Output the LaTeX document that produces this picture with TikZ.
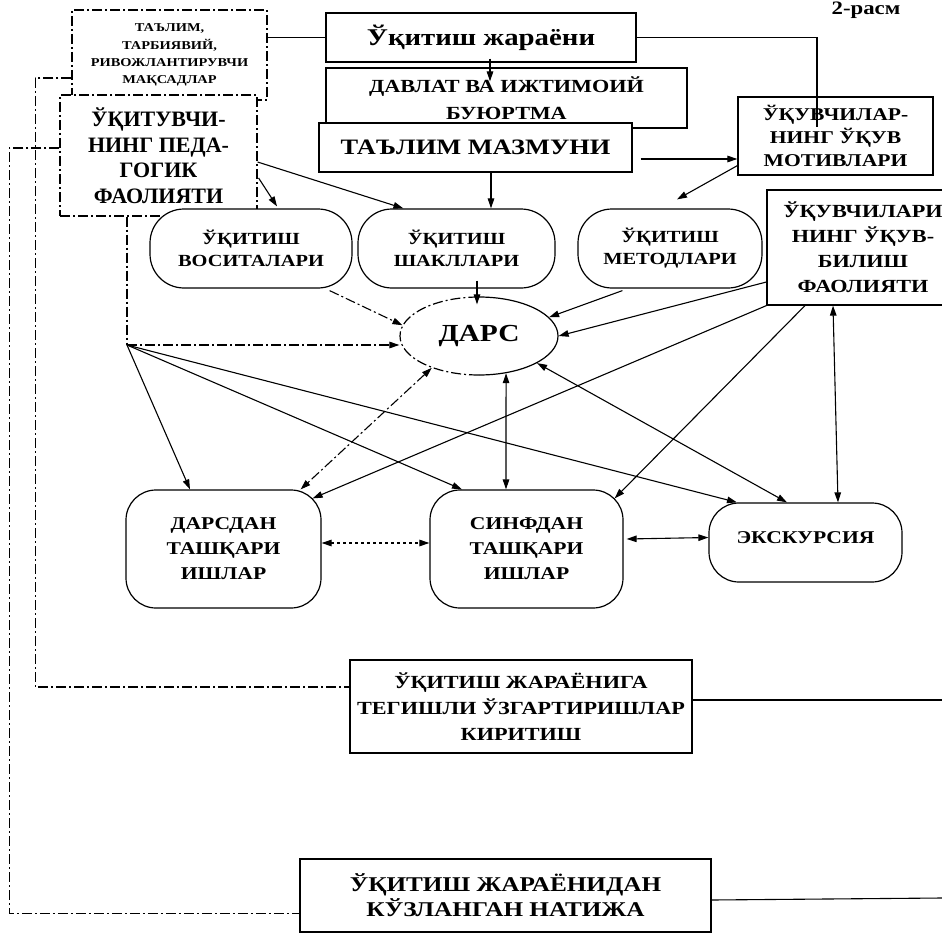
\documentclass[tikz,border=0pt]{standalone}
\usepackage{fontspec}
\setmainfont[FakeStretch=1.2]{Liberation Serif}
\newfontfamily\nf{Liberation Serif}
\usetikzlibrary{arrows.meta,calc,shapes.geometric}
\newcommand\fz[2]{\fontsize{#1}{#2}\selectfont}
\tikzset{
  box/.style={draw, line width=1.2pt, fill=white, inner sep=0pt, align=center},
  rbox/.style={box, rounded corners=34pt},
  ln/.style={line width=1.1pt},
  arr/.style={ln, -{Triangle[length=10pt,width=6.5pt]}},
  darr/.style={ln, {Triangle[length=10pt,width=6.5pt]}-{Triangle[length=10pt,width=6.5pt]}},
  dd/.style={dash pattern=on 10pt off 3pt on 2pt off 3pt},
}
\begin{document}
\begin{tikzpicture}[x=1pt,y=-1pt]
\useasboundingbox (0,0) rectangle (942,939);

\node[font=\bfseries\fz{19}{20}, anchor=base] (fig) at (866,15) {2-расм};

\node[box, dd, minimum width=195pt, minimum height=90pt, font=\bfseries\fz{12}{17.3}] (goals) at (169.5,55)
  {ТАЪЛИМ,\\ТАРБИЯВИЙ,\\РИВОЖЛАНТИРУВЧИ\\МАҚСАДЛАР};
\node[box, dd, minimum width=197pt, minimum height=121pt, font=\nf\bfseries\fz{22}{25.5}] (teacher) at (158.5,155.5)
  {ЎҚИТУВЧИ-\\НИНГ ПЕДА-\\ГОГИК\\ФАОЛИЯТИ};
\node[box, minimum width=310pt, minimum height=49pt, font=\bfseries\fz{24}{25}] (process) at (481,37.5)
  {Ўқитиш жараёни};
\node[box, minimum width=361pt, minimum height=60pt, font=\bfseries\fz{18.5}{27}] (davlat) at (506.5,98)
  {ДАВЛАТ ВА ИЖТИМОИЙ\\БУЮРТМА};
\node[box, minimum width=313pt, minimum height=49pt, font=\bfseries\fz{22}{25}] (mazmun) at (475.5,147.5)
  {ТАЪЛИМ МАЗМУНИ};
\node[box, minimum width=195pt, minimum height=78pt, font=\bfseries\fz{18}{23}] (motiv) at (835.5,136)
  {ЎҚУВЧИЛАР-\\НИНГ ЎҚУВ\\МОТИВЛАРИ};
\node[box, minimum width=192pt, minimum height=115pt, font=\bfseries\fz{18.5}{25}] (bilish) at (863,247.5)
  {ЎҚУВЧИЛАРИ\\НИНГ ЎҚУВ-\\БИЛИШ\\ФАОЛИЯТИ};
\node[rbox, minimum width=202pt, minimum height=79pt, font=\bfseries\fz{17}{22}] (vosita) at (251,248.5)
  {ЎҚИТИШ\\ВОСИТАЛАРИ};
\node[rbox, minimum width=197pt, minimum height=79pt, font=\bfseries\fz{17}{22}] (shakl) at (456.5,248.5)
  {ЎҚИТИШ\\ШАКЛЛАРИ};
\node[rbox, minimum width=184pt, minimum height=79pt, font=\bfseries\fz{17}{22}] (metod) at (670,248.5)
  {ЎҚИТИШ\\МЕТОДЛАРИ};
\node[box, draw=none, ellipse, minimum width=158pt, minimum height=78pt, font=\bfseries\fz{24.5}{28}] (dars) at (479,336)
  {ДАРС};
\draw[line width=1.2pt] ($(dars.center)+(0,-39)$) arc[start angle=-90, end angle=90, x radius=79, y radius=39];
\draw[line width=1.2pt, dd] ($(dars.center)+(0,39)$) arc[start angle=90, end angle=270, x radius=79, y radius=39];
\node[box, rounded corners=30pt, minimum width=195pt, minimum height=118pt, font=\bfseries\fz{18}{25}] (darsdan) at (223.5,549)
  {ДАРСДАН\\ТАШҚАРИ\\ИШЛАР};
\node[box, rounded corners=30pt, minimum width=193pt, minimum height=118pt, font=\bfseries\fz{18}{25}] (sinfdan) at (526.5,549)
  {СИНФДАН\\ТАШҚАРИ\\ИШЛАР};
\node[box, rounded corners=30pt, minimum width=193pt, minimum height=79pt, font=\bfseries\fz{18}{22}] (ekskursiya) at (805.5,542.5)
  {\raisebox{9pt}{ЭКСКУРСИЯ}};
\node[box, minimum width=342pt, minimum height=93pt, font=\bfseries\fz{18.5}{26}] (kiritish) at (521,706.5)
  {ЎҚИТИШ ЖАРАЁНИГА\\ТЕГИШЛИ ЎЗГАРТИРИШЛАР\\КИРИТИШ};
\node[box, minimum width=411pt, minimum height=73pt, font=\bfseries\fz{21}{25}] (natija) at (505.5,895.5)
  {ЎҚИТИШ ЖАРАЁНИДАН\\КЎЗЛАНГАН НАТИЖА};

% top connectors
\draw[ln] (goals.east |- process.west) -- (process.west);
\draw[ln] (process.east) -| ($(motiv.north)+(-18.5,31)$);
\draw[arr] ($(process.south)+(9,-4)$) -- ($(davlat.north)+(-16.5,14)$);
\draw[arr] ($(mazmun.south)+(15.5,0)$) -- ($(shakl.north)+(34.5,0)$);
\draw[arr] ($(mazmun.east)+(8,11.5)$) -- ($(motiv.west)+(0,23)$);
\draw[arr] ($(motiv.south west)+(0,-10)$) -- ($(metod.north)+(7,-9)$);
\draw[arr] ($(teacher.east)+(0,6.5)$) -- ($(shakl.north west)+(46,0)$);
\draw[arr] ($(teacher.east)+(1,22.5)$) -- ($(vosita.north)+(26,-2)$);

% into DARS
\draw[arr, dd] ($(vosita.south east)+(-23,2)$) -- (dars.172);
\draw[arr] ($(shakl.south)+(20.5,-8)$) -- ($(dars.north)+(-2,8)$);
\draw[arr] ($(metod.south west)+(45,2)$) -- (dars.15);
\draw[arr] ($(bilish.west)+(0,34.5)$) -- (dars.east);

% fan from teacher
\coordinate (fan) at (127,345);
\draw[ln, dd] ($(teacher.south)+(-31.5,0)$) -- (fan);
\draw[arr, dd] (fan) -- (fan -| dars.west);
\draw[arr] (fan) -- ($(darsdan.north)+(-33.5,0)$);
\draw[arr] (fan) -- ($(sinfdan.north)+(-64.5,0)$);
\draw[arr] (fan) -- ($(ekskursiya.north)+(-68.5,0)$);

% DARS to bottom row
\draw[darr] (dars.306) -- ($(sinfdan.north)+(-20.5,0)$);
\draw[darr] (dars.335) -- ($(ekskursiya.north)+(-18.5,0)$);
\draw[darr, dd] (dars.214) -- ($(darsdan.north east)+(-21,0)$);

% from bilish
\draw[arr] (bilish.south west) -- ($(darsdan.north east)+(-9,9)$);
\draw[arr] ($(bilish.south)+(-58,0)$) -- ($(sinfdan.north east)+(-9,9)$);
\draw[darr] ($(bilish.south)+(-30,0)$) -- ($(ekskursiya.north)+(32.5,0)$);

% bottom row
\draw[darr, dashed] ($(darsdan.east)+(0,-6)$) -- ($(sinfdan.west)+(0,-6)$);
\draw[darr] ($(sinfdan.east)+(3,-10)$) -- ($(ekskursiya.west)+(0,-5)$);

% left feedback lines
\draw[ln, dd] ($(goals.west)+(0,23)$) -- ++(-36,0) |- ($(kiritish.west)+(0,-19.5)$);
\draw[ln, dd] ($(teacher.west)+(0,-7.5)$) -- ++(-50,0) |- ($(natija.west)+(0,18)$);

% right lines
\coordinate (r1) at (942,700);
\coordinate (r2) at (942,898);
\draw[ln] ($(kiritish.east)+(0,-6.5)$) -- (r1);
\draw[ln] ($(natija.east)+(0,4.5)$) -- (r2);
\end{tikzpicture}
\end{document}
